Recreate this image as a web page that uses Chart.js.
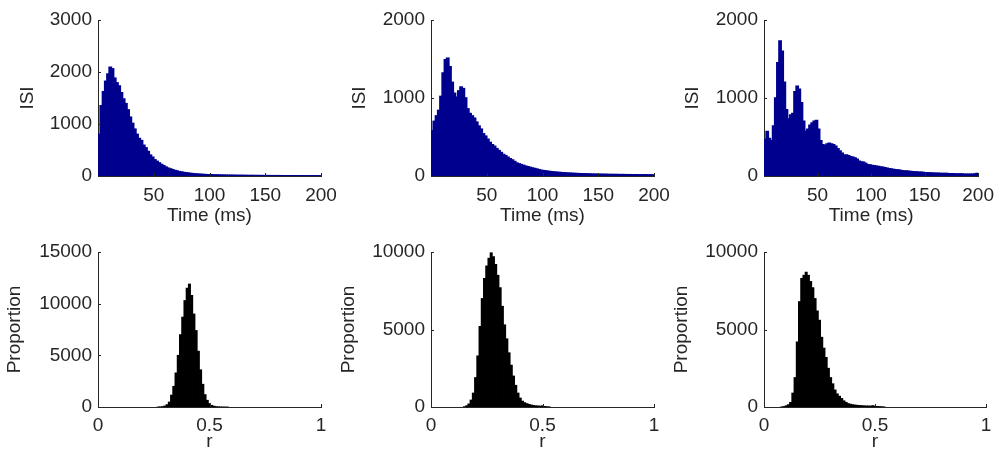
<!DOCTYPE html>
<html>
<head>
<meta charset="utf-8">
<script src="https://cdn.jsdelivr.net/npm/chart.js@4/dist/chart.umd.min.js"></script>
<style>
  body { margin: 0; background: #fff; }
  #wrap { position: relative; width: 1002px; height: 455px; }
  #wrap canvas { position: absolute; left: 0; top: 0; }
</style>
</head>
<body>
<div id="wrap">
  <canvas id="isi1" width="1002" height="455"></canvas>
  <canvas id="isi2" width="1002" height="455"></canvas>
  <canvas id="isi3" width="1002" height="455"></canvas>
  <canvas id="prop1" width="1002" height="455"></canvas>
  <canvas id="prop2" width="1002" height="455"></canvas>
  <canvas id="prop3" width="1002" height="455"></canvas>
</div>
<script>
Chart.defaults.font.family = "'Liberation Sans', Arial, Helvetica, sans-serif";
Chart.defaults.font.size = 19;
Chart.defaults.color = '#262626';

// ISI histograms, 2 ms bins (bin centres)
const isiTime = Array.from({ length: 100 }, (_, i) => 1 + 2 * i);

const isiCounts1 = [
  800, 1350, 1620, 1820, 1960, 2090, 2060, 1880, 1790, 1730,
  1600, 1480, 1390, 1270, 1130, 1010, 900, 800, 720, 680,
  590, 540, 470, 400, 360, 310, 280, 250, 220, 195,
  170, 150, 135, 120, 105, 95, 82, 75, 66, 60,
  55, 48, 44, 40, 36, 33, 30, 27, 25, 23,
  22, 20, 19, 18, 17, 16, 15, 14, 13, 13,
  12, 11, 11, 10, 10, 9, 9, 8, 8, 8,
  7, 7, 7, 6, 6, 6, 6, 5, 5, 5,
  5, 5, 4, 4, 4, 4, 4, 4, 3, 3,
  3, 3, 3, 3, 3, 3, 3, 3, 2, 2
];

const isiCounts2 = [
  580, 700, 770, 840, 1020, 1320, 1490, 1510, 1400, 1200,
  1060, 1010, 1090, 1140, 1120, 1000, 860, 800, 770, 740,
  690, 640, 600, 540, 510, 470, 430, 400, 380, 350,
  325, 300, 275, 260, 240, 220, 205, 185, 165, 155,
  145, 135, 125, 118, 110, 102, 95, 88, 80, 72,
  68, 64, 60, 56, 53, 50, 47, 45, 42, 40,
  38, 36, 35, 33, 32, 30, 29, 28, 27, 26,
  25, 24, 23, 22, 22, 21, 21, 20, 20, 19,
  19, 18, 18, 18, 17, 17, 17, 16, 16, 16,
  15, 15, 15, 14, 14, 14, 14, 13, 13, 13
];

const isiCounts3 = [
  470, 570, 480, 450, 640, 1000, 1450, 1730, 1600, 1200,
  850, 730, 780, 800, 1080, 1150, 1110, 940, 700, 570,
  600, 650, 680, 700, 710, 600, 450, 400, 390, 410,
  420, 410, 400, 380, 350, 320, 290, 265, 270, 260,
  245, 240, 230, 215, 190, 180, 175, 160, 145, 140,
  135, 130, 125, 120, 116, 110, 104, 98, 93, 88,
  84, 80, 76, 72, 68, 65, 62, 60, 57, 55,
  52, 50, 48, 46, 44, 42, 40, 39, 38, 36,
  35, 34, 33, 32, 31, 30, 29, 28, 27, 26,
  25, 24, 24, 23, 22, 22, 21, 22, 25, 30
];

// r histograms (bin centres, counts)
const rBins1 = [0.27, 0.28, 0.29, 0.30, 0.31, 0.32, 0.33, 0.34, 0.35, 0.36, 0.37, 0.38, 0.39, 0.40, 0.41,
  0.42, 0.43, 0.44, 0.45, 0.46, 0.47, 0.48, 0.49, 0.50, 0.51, 0.52, 0.53, 0.54, 0.55, 0.56, 0.57, 0.58];
const rCounts1 = [5, 15, 40, 100, 230, 480, 1150, 2000, 3300, 5000, 7000, 8700, 10300, 11500, 11900,
  10800, 9000, 7400, 5400, 3600, 2200, 1200, 650, 330, 160, 80, 40, 20, 10, 5, 3, 2];

const rBins2 = [0.15, 0.16, 0.17, 0.18, 0.19, 0.20, 0.21, 0.22, 0.23, 0.24, 0.25, 0.26, 0.27, 0.28, 0.29,
  0.30, 0.31, 0.32, 0.33, 0.34, 0.35, 0.36, 0.37, 0.38, 0.39, 0.40, 0.41, 0.42, 0.43, 0.44, 0.45, 0.46,
  0.47, 0.48, 0.49, 0.50, 0.51, 0.52, 0.53];
const rCounts2 = [20, 80, 200, 450, 900, 1900, 3300, 5200, 7000, 8300, 9100, 9600, 9950, 9700, 9200,
  8500, 7700, 6500, 5300, 4400, 3500, 2700, 2000, 1400, 900, 580, 380, 280, 220, 170, 130, 100,
  80, 70, 60, 80, 40, 20, 10];

const rBins3 = [0.08, 0.09, 0.10, 0.11, 0.12, 0.13, 0.14, 0.15, 0.16, 0.17, 0.18, 0.19, 0.20, 0.21, 0.22,
  0.23, 0.24, 0.25, 0.26, 0.27, 0.28, 0.29, 0.30, 0.31, 0.32, 0.33, 0.34, 0.35, 0.36, 0.37, 0.38, 0.39,
  0.40, 0.41, 0.42, 0.43, 0.44, 0.45, 0.46, 0.47, 0.48, 0.49, 0.50, 0.51, 0.52, 0.53, 0.54];
const rCounts3 = [10, 30, 80, 150, 300, 900, 1900, 4200, 6800, 8300, 8500, 8700, 8500, 8100, 7700,
  7000, 6200, 5600, 4500, 3800, 3200, 2500, 1900, 1500, 1100, 850, 700, 550, 400, 300, 220, 180,
  150, 130, 110, 100, 90, 80, 70, 70, 60, 90, 50, 40, 30, 20, 10];

const isiTicksX = [50, 100, 150, 200];
const rTicksX = [0, 0.5, 1];
const isiTicksY3000 = [0, 1000, 2000, 3000];
const isiTicksY2000 = [0, 1000, 2000];
const propTicksY15000 = [0, 5000, 10000, 15000];
const propTicksY10000 = [0, 5000, 10000];

const navy = '#00008f';
const axisColor = '#262626';

// matlab style ticks pointing into the plot
const inwardTicks = {
  id: 'inwardTicks',
  afterDatasetsDraw(chart) {
    const { ctx, chartArea, scales: { x, y } } = chart;
    ctx.save();
    ctx.strokeStyle = axisColor;
    ctx.lineWidth = 1;
    ctx.beginPath();
    x.ticks.forEach(t => {
      const px = Math.round(x.getPixelForValue(t.value)) + 0.5;
      ctx.moveTo(px, chartArea.bottom);
      ctx.lineTo(px, chartArea.bottom - 3);
    });
    y.ticks.forEach(t => {
      const py = Math.round(y.getPixelForValue(t.value)) + 0.5;
      ctx.moveTo(chartArea.left, py);
      ctx.lineTo(chartArea.left + 3, py);
    });
    ctx.stroke();
    ctx.restore();
  }
};

function makePanel(id, cfg) {
  new Chart(document.getElementById(id), {
    type: 'bar',
    data: {
      datasets: [{
        data: cfg.bins.map((b, i) => ({ x: b, y: cfg.counts[i] })),
        backgroundColor: cfg.color,
        borderWidth: 0,
        inflateAmount: cfg.inflate,
        barPercentage: 1,
        categoryPercentage: 1
      }]
    },
    options: {
      responsive: false,
      animation: false,
      events: [],
      layout: { padding: { left: cfg.left, top: cfg.top, right: 1002 - cfg.right, bottom: cfg.bottom } },
      plugins: { legend: { display: false }, tooltip: { enabled: false } },
      scales: {
        x: {
          type: 'linear', min: cfg.xMin, max: cfg.xMax, offset: false,
          grid: { display: false, drawTicks: false },
          border: { color: axisColor, width: 1 },
          ticks: { padding: cfg.xTickPad, maxRotation: 0, autoSkip: false, callback: v => String(v) },
          title: { display: true, text: cfg.xTitle, padding: { top: 0, bottom: cfg.xTitlePad } },
          afterBuildTicks: s => { s.ticks = cfg.xTicks.map(v => ({ value: v })); },
          afterFit: s => { s.height = cfg.xH; }
        },
        y: {
          min: 0, max: cfg.yMax,
          grid: { display: false, drawTicks: false },
          border: { color: axisColor, width: 1 },
          ticks: { padding: 6, autoSkip: false, callback: v => String(v) },
          title: { display: true, text: cfg.yTitle, padding: { top: 0, bottom: 0 } },
          afterBuildTicks: s => { s.ticks = cfg.yTicks.map(v => ({ value: v })); },
          afterFit: s => { s.width = cfg.yW; }
        }
      }
    },
    plugins: [inwardTicks]
  });
}

const topRow = { top: 20, bottom: 227, xH: 52, xTickPad: 8, xTitlePad: 1, xMin: 0, xMax: 200, xTicks: isiTicksX, xTitle: 'Time (ms)', yTitle: 'ISI', color: navy, bins: isiTime, inflate: 0.8 };
const bottomRow = { top: 252, bottom: 0, xH: 48, xTickPad: 7, xTitlePad: 2, xMin: 0, xMax: 1, xTicks: rTicksX, xTitle: 'r', yTitle: 'Proportion', color: '#000', inflate: 0.4 };

makePanel('isi1', { ...topRow, left: 16, yW: 82, right: 321, yMax: 3000, yTicks: isiTicksY3000, counts: isiCounts1 });
makePanel('isi2', { ...topRow, left: 348, yW: 83, right: 654, yMax: 2000, yTicks: isiTicksY2000, counts: isiCounts2 });
makePanel('isi3', { ...topRow, left: 681, yW: 83, right: 986, yMax: 2000, yTicks: isiTicksY2000, counts: isiCounts3 });

makePanel('prop1', { ...bottomRow, left: 3, yW: 95, right: 321, yMax: 15000, yTicks: propTicksY15000, bins: rBins1, counts: rCounts1 });
makePanel('prop2', { ...bottomRow, left: 337, yW: 94, right: 654, yMax: 10000, yTicks: propTicksY10000, bins: rBins2, counts: rCounts2 });
makePanel('prop3', { ...bottomRow, left: 670, yW: 94, right: 986, yMax: 10000, yTicks: propTicksY10000, bins: rBins3, counts: rCounts3 });
</script>
</body>
</html>
